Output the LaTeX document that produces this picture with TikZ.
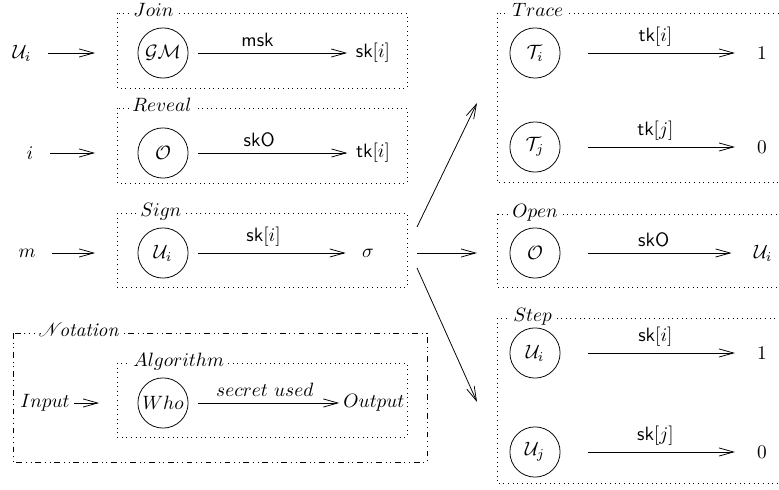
\documentclass[tikz,border=0pt]{standalone}
\usepackage{tikz}
\usetikzlibrary{arrows.meta}
\usepackage{amsmath}
\usepackage{mathrsfs}

\begin{document}
\begin{tikzpicture}[x=0.518pt, y=-0.518pt,
		>={Straight Barb[length=7.5pt,width=4.2pt]},
		link/.style={->, shorten >=1pt, shorten <=5pt},
		farlink/.style={->, shorten >=8pt, shorten <=14pt},
		alg/.style={circle, draw, minimum size=26pt, inner sep=0pt},
		dotbox/.style={dotted},
		boxname/.style={anchor=base west, fill=white, inner sep=1.5pt}]
	\useasboundingbox (0,0) rectangle (779,490);
	\clip (0,0) rectangle (779,490);
	\draw[dotbox] (117,13) rectangle (407,88);
	\draw[dotbox] (117,108) rectangle (407,183);
	\draw[dotbox] (117,213) rectangle (407,287);
	\draw[dash dot dot] (13,333) rectangle (427,462);
	\draw[dotbox] (117,363) rectangle (407,437);
	\draw[dotbox] (497,13) rectangle (800,182);
	\draw[dotbox] (497,214) rectangle (800,287);
	\draw[dotbox] (497,318) rectangle (800,483);
	\node at (130,17) (join) [boxname] {$Join$};
	\node at (129,112) (reveal) [boxname] {$Reveal$};
	\node at (137,217) (sign) [boxname] {$Sign$};
	\node at (35,337) (notation) [boxname] {$\mathscr{N}\!$\textit{otation}};
	\node at (130,367) (algorithm) [boxname] {$Algorithm$};
	\node at (509,17) (trace) [boxname] {$Trace$};
	\node at (509,218) (open) [boxname] {$Open$};
	\node at (510,322) (step) [boxname] {$Step$};
	\node at (22,53) (u0) {$\mathcal{U}_i$};
	\node at (30,153) (i0) {$i$};
	\node at (27,253) (m0) {$m$};
	\node at (45,403) (inp) [inner sep=1pt] {$Input$};
	\coordinate (c1) at (97,53);
	\coordinate (c2) at (97,153);
	\coordinate (c3) at (97,253);
	\coordinate (c4) at (101,403);
	\node at (163,53) (gm) [alg] {$\mathcal{GM}$};
	\node at (163,153) (o1) [alg] {$\mathcal{O}$};
	\node at (163,253) (u1) [alg] {$\mathcal{U}_i$};
	\node at (163,403) (who) [alg] {$Who$};
	\node at (373,53) (ski) {$\mathsf{sk}[i]$};
	\node at (373,153) (tki) {$\mathsf{tk}[i]$};
	\node at (368,253) (sig) {$\sigma$};
	\node at (374,403) (out) [inner sep=1pt] {$Output$};
	\node at (535,53) (ti) [alg] {$\mathcal{T}_i$};
	\node at (535,147) (tj) [alg] {$\mathcal{T}_j$};
	\node at (535,253) (o2) [alg] {$\mathcal{O}$};
	\node at (535,353) (si) [alg] {$\mathcal{U}_i$};
	\node at (535,452) (sj) [alg] {$\mathcal{U}_j$};
	\node at (762,53) (r1) {$1$};
	\node at (762,147) (r2) {$0$};
	\node at (763,253) (r3) {$\mathcal{U}_i$};
	\node at (762,353) (r4) {$1$};
	\node at (762,452) (r5) {$0$};
	\coordinate (f1) at (417,227);
	\coordinate (f2) at (417,253);
	\coordinate (f3) at (417,268);
	\coordinate (g1) at (477,103);
	\coordinate (g2) at (477,253);
	\coordinate (g3) at (477,402);
	\draw[link] (u0) -- (c1);
	\draw[link] (i0) -- (c2);
	\draw[link] (m0) -- (c3);
	\draw[link, shorten <=1pt] (inp) -- (c4);
	\draw[link] (gm) -- node[above, pos=0.43] {$\mathsf{msk}$} (ski);
	\draw[link] (o1) -- node[above, pos=0.44] {$\mathsf{skO}$} (tki);
	\draw[link, shorten >=5pt] (u1) -- node[above, pos=0.45] {$\mathsf{sk}[i]$} (sig);
	\draw[link] (who) -- node[above] {$secret\ used$} (out);
	\draw[farlink] (ti) -- node[above] {$\mathsf{tk}[i]$} (r1);
	\draw[farlink] (tj) -- node[above] {$\mathsf{tk}[j]$} (r2);
	\draw[farlink] (o2) -- node[above] {$\mathsf{skO}$} (r3);
	\draw[farlink] (si) -- node[above] {$\mathsf{sk}[i]$} (r4);
	\draw[farlink] (sj) -- node[above] {$\mathsf{sk}[j]$} (r5);
	\draw[->] (f1) -- (g1);
	\draw[->] (f2) -- (g2);
	\draw[->] (f3) -- (g3);
\end{tikzpicture}
\end{document}
